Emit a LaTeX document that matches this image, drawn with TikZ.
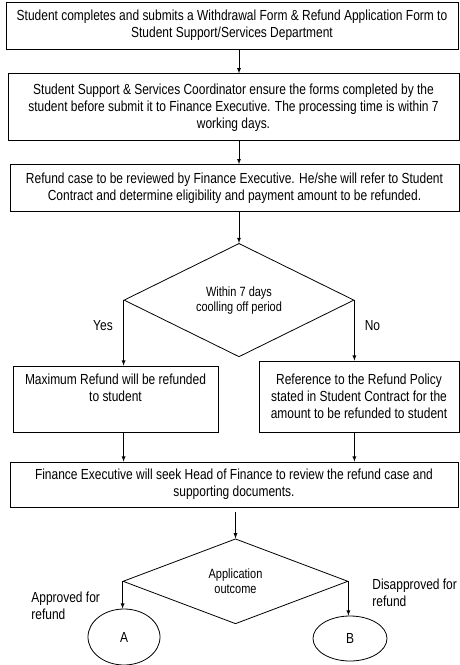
\documentclass[tikz,border=0pt]{standalone}
\usepackage{fontspec}
\setmainfont{Liberation Sans}[FakeStretch=0.82]
\usetikzlibrary{shapes, arrows, positioning}

\begin{document}
\begin{tikzpicture}[>=latex, x=1pt, y=-1pt, line width=0.8pt,
    font=\fontsize{14.6}{17}\selectfont,
    stepbox/.style={draw, rectangle, align=center, inner sep=2pt},
    decide/.style={draw, diamond, align=center, inner sep=0pt, font=\fontsize{13.4}{15}\selectfont},
    endpoint/.style={draw, ellipse, inner sep=0pt},
    lbl/.style={inner sep=0pt, align=left}]

\useasboundingbox (0,0) rectangle (460,665);

\node[stepbox, minimum height=47pt, minimum width=452pt] (submit) at (232,25.5) {Student completes and submits a Withdrawal Form \& Refund Application Form to\\Student Support/Services Department};
\node[stepbox, minimum height=67pt, minimum width=451pt, below=24pt of submit, xshift=1.5pt] (verify) {Student Support \& Services Coordinator ensure the forms completed by the\\student before submit it to Finance Executive. The processing time is within 7\\working days.};
\node[stepbox, minimum height=47pt, minimum width=449pt, below=23pt of verify, xshift=1pt] (assess) {Refund case to be reviewed by Finance Executive. He/she will refer to Student\\Contract and determine eligibility and payment amount to be refunded.};

\node[decide, minimum width=230pt, minimum height=91pt, below=31pt of assess, xshift=4.5pt] (cool) {Within 7 days\\coolling off period};

\node[stepbox, minimum height=66pt, minimum width=205pt] (fullref) at (115.5,399) {Maximum Refund will be refunded\\to student\\\strut};
\node[stepbox, minimum height=71pt, minimum width=200pt] (policy) at (359,396.5) {Reference to the Refund Policy\\stated in Student Contract for the\\amount to be refunded to student};

\node[stepbox, minimum height=45pt, minimum width=448pt] (headfin) at (234,484.5) {Finance Executive will seek Head of Finance to review the refund case and\\supporting documents.};

\node[decide, minimum width=225pt, minimum height=85pt, below=31pt of headfin, xshift=1.5pt] (outcome) {Application\\outcome};

\node[endpoint, minimum width=72pt, minimum height=56pt] (endA) at (124,637) {A};
\node[endpoint, minimum width=74pt, minimum height=45pt] (endB) at (350,638.5) {B};

\node (yes) at (103,326) {Yes};
\node (no) at (372.5,326) {No};
\node[lbl, anchor=west] (appr) at (31,606) {Approved for\\refund};
\node[lbl, anchor=west] (disappr) at (372,593) {Disapproved for\\refund};

\draw[->] (submit.south -| cool.north) -- (verify.north -| cool.north);
\draw[->] (verify.south -| cool.north) -- (assess.north -| cool.north);
\draw[->] (assess.south -| cool.north) -- (cool.north);

\draw[->] (cool.west) -- (cool.west |- fullref.north);
\draw[->] (cool.east) -- (cool.east |- policy.north);
\draw[->] (cool.west |- fullref.south) -- (cool.west |- headfin.north);
\draw[->] (cool.east |- policy.south) -- (cool.east |- headfin.north);

\draw[->, shorten <=5pt] (headfin.south -| outcome.north) -- (outcome.north);
\draw[->] (outcome.west) -- (outcome.west |- endA.north);
\draw[->] (outcome.east) -- (outcome.east |- endB.north);

\end{tikzpicture}
\end{document}
